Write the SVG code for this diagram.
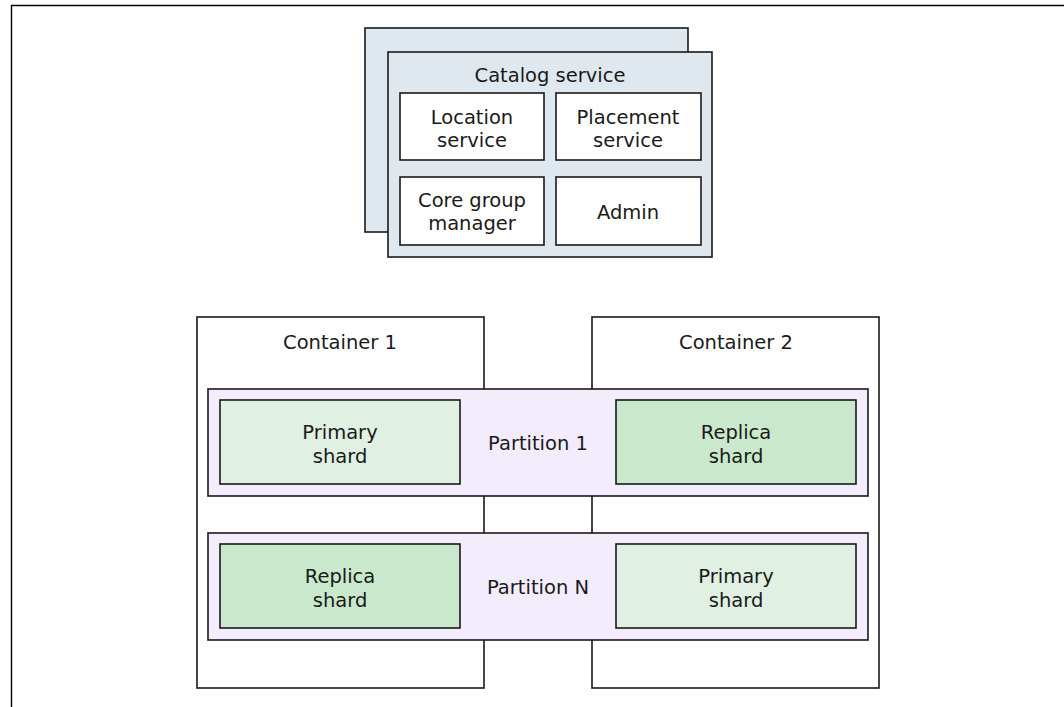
<svg xmlns="http://www.w3.org/2000/svg" width="1064" height="707" viewBox="0 0 1064 707">
<style>
  text { font-family: "DejaVu Sans", Verdana, sans-serif; font-size: 19.5px; fill: #1a1a1a; text-anchor: middle; }
  .b { stroke: #1a1a1a; stroke-width: 1.6; }
  .cat { fill: #dfe8ef; }
  .white { fill: #ffffff; }
  .part { fill: #f3ecfc; }
  .prim { fill: #e0f0e2; }
  .repl { fill: #c9e8cc; }
</style>
<rect width="1064" height="707" fill="#ffffff"/>
<g id="frame">
  <path d="M11.5 707 V5.5 H1064" fill="none" stroke="#000" stroke-width="1.4"/>
</g>
<g id="catalog-back"><rect class="b cat" x="365" y="28" width="323" height="204"/></g>
<g id="catalog-service">
  <rect class="b cat" x="388" y="52" width="324" height="205"/>
  <text x="550" y="82">Catalog service</text>
</g>
<g id="location-service">
  <rect class="b white" x="400" y="93" width="144" height="67"/>
  <text x="472" y="124">Location</text>
  <text x="472" y="147">service</text>
</g>
<g id="placement-service">
  <rect class="b white" x="556" y="93" width="145" height="67"/>
  <text x="628" y="124">Placement</text>
  <text x="628" y="147">service</text>
</g>
<g id="core-group-manager">
  <rect class="b white" x="400" y="177" width="144" height="68"/>
  <text x="472" y="207">Core group</text>
  <text x="472" y="230">manager</text>
</g>
<g id="admin">
  <rect class="b white" x="556" y="177" width="145" height="68"/>
  <text x="628" y="219">Admin</text>
</g>
<g id="container-1">
  <rect class="b white" x="197" y="317" width="287" height="371"/>
  <text x="340" y="349">Container 1</text>
</g>
<g id="container-2">
  <rect class="b white" x="592" y="317" width="287" height="371"/>
  <text x="736" y="349">Container 2</text>
</g>
<g id="partition-1">
  <rect class="b part" x="208" y="389" width="660" height="107"/>
  <text x="538" y="450">Partition 1</text>
</g>
<g id="primary-shard-1">
  <rect class="b prim" x="220" y="400" width="240" height="84"/>
  <text x="340" y="439">Primary</text>
  <text x="340" y="463">shard</text>
</g>
<g id="replica-shard-1">
  <rect class="b repl" x="616" y="400" width="240" height="84"/>
  <text x="736" y="439">Replica</text>
  <text x="736" y="463">shard</text>
</g>
<g id="partition-n">
  <rect class="b part" x="208" y="533" width="660" height="107"/>
  <text x="538" y="594">Partition N</text>
</g>
<g id="replica-shard-n">
  <rect class="b repl" x="220" y="544" width="240" height="84"/>
  <text x="340" y="583">Replica</text>
  <text x="340" y="607">shard</text>
</g>
<g id="primary-shard-n">
  <rect class="b prim" x="616" y="544" width="240" height="84"/>
  <text x="736" y="583">Primary</text>
  <text x="736" y="607">shard</text>
</g>
<g id="connectors"></g>
</svg>
